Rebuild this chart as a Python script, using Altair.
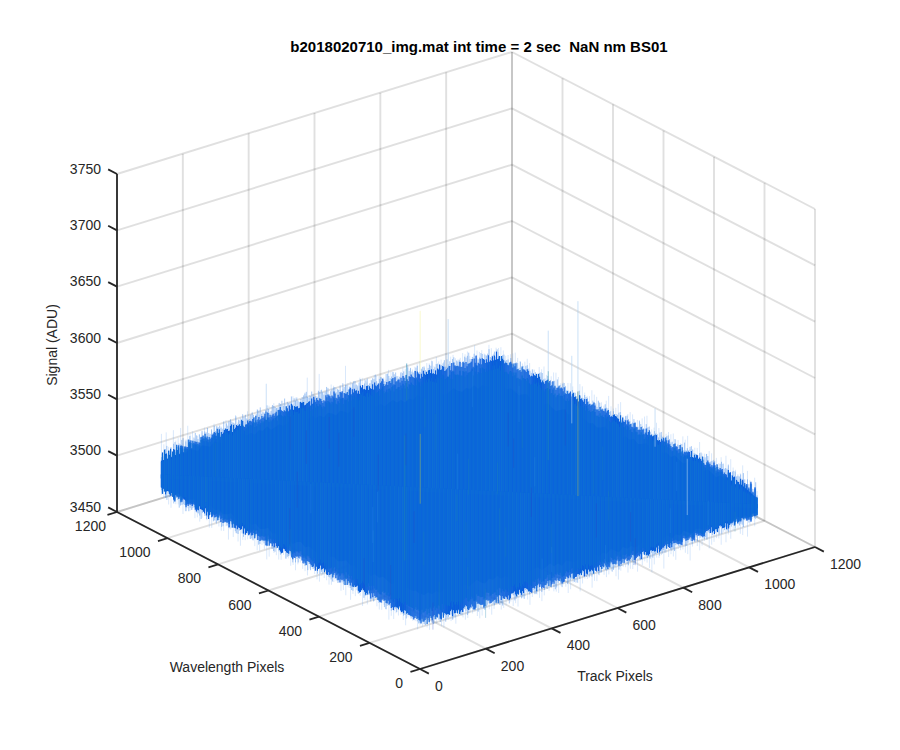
import altair as alt
import numpy as np
import pandas as pd

TITLE = "b2018020710_img.mat int time = 2 sec \u00a0NaN nm BS01"
TICKS_XY = [0, 200, 400, 600, 800, 1000, 1200]
TICKS_Z = [3450, 3500, 3550, 3600, 3650, 3700, 3750]
EDGE = 1024
MID = 3502

# Solid edge of the surface, signal minus MID, read along the four edges
UP_LB = [14,19,17,21,19,22,20,23,21,19,24,22,20,25,23,21,24,26,22,24,27,23,25,22,26,24,28,23,25,27,24,26,29,25,23,27,25,28,24,26,23,27,25,22,26,24,21,25,23,26,22,20,24,21,23,19,22,24,20,22,18,21,19,23,20,18,21,17,20,18,16,19,21,17,15,18,16,19,14,17,15,13,16,12]
UP_BR = [11,14,12,15,13,11,14,16,12,14,15,12,16,13,11,14,17,13,15,12,14,16,13,15,12,14,17,13,15,14,12,16,14,17,13,15,18,14,16,13,15,17,14,18,15,13,16,19,15,17,14,18,16,13,17,15,19,16,14,17,15,13,11,8]
LO_LF = [-10,-14,-12,-15,-11,-13,-16,-12,-10,-13,-11,-14,-9,-12,-10,-13,-11,-8,-12,-10,-13,-9,-11,-8,-12,-10,-7,-11,-9,-12,-8,-10,-13,-9,-7,-11,-8,-10,-12,-9,-7,-10,-8,-11,-9,-6,-10,-8,-11,-7,-9,-12,-8,-10,-7,-9,-11,-8,-6,-10,-8,-9,-7,-9]
LO_FR = [-8,-11,-9,-12,-10,-13,-9,-11,-14,-10,-12,-9,-13,-11,-8,-12,-14,-10,-12,-9,-13,-11,-15,-10,-12,-14,-9,-13,-11,-10,-14,-12,-9,-13,-11,-15,-10,-12,-14,-11,-9,-13,-12,-10,-14,-11,-13,-9,-12,-15,-10,-13,-11,-14,-12,-9,-13,-10,-12,-14,-11,-9,-13,-10,-12,-8,-11,-13,-9,-10,-12,-8,-11,-9,-7,-10,-12,-8,-6,-9,-7,-10,-6,-8]

# Thin noise peaks beyond the solid edge, signal minus MID
PK_LB = [42,27,31,26,33,29,35,30,28,36,31,34,38,30,33,37,32,35,29,34,39,32,53,33,37,30,35,31,36,28,34,30,33,27,32,29,35,31,26,30,34,27,30,25,28,23,26,20]
PK_BR = [24,20,26,22,28,21,25,19,29,23,26,21,24,30,22,27,23,33,25,21,28,24,31,22,27,25,29,23,34,26,24,30,27,25,33,22,15]
PK_LF = [-18,-24,-20,-26,-19,-22,-17,-25,-20,-16,-23,-28,-18,-21,-16,-24,-19,-15,-22,-17,-20,-14,-23,-18,-16,-21,-14,-19,-25,-15,-18,-13,-20,-16,-22,-14,-13]
PK_FR = [-15,-19,-17,-22,-18,-24,-20,-17,-23,-19,-26,-18,-21,-24,-17,-22,-19,-28,-20,-23,-18,-25,-21,-19,-30,-20,-24,-18,-22,-26,-19,-23,-28,-20,-33,-21,-18,-24,-20,-26,-17,-22,-27,-19,-15,-24,-16,-11]

# Hot pixels and streaks
HOT_TRACK = [786, 871, 700, 700, 200, 500, 800, 800, 1024, 300, 650, 950, 860]
HOT_WAVE = [1024, 1024, 287, 287, 321, 651, 535, 535, 404, 1000, 900, 180, 520]
HOT_HI = [3578, 3563, 3600, 3680, 3602, 3538, 3616, 3580, 3542, 3560, 3558, 3530, 3590]
HOT_LO = [3525, 3512, 3507, 3600, 3491, 3476, 3580, 3501, 3508, 3528, 3525, 3480, 3530]
HOT_TONE = ["yellow", "pale", "olive", "pale", "teal", "olive", "pale", "teal", "pale", "pale", "teal", "pale", "pale"]

ST_TRACK = [40,95,130,180,210,260,300,330,370,410,440,480,520,560,590,630,660,700,740,780,820,860,900,940,980,1010,60,150,240,350,460,540,610,690,770,850,930,20,110,190,280,390,500,600,720,840,960,70,230,430,650,880,320,510,760]
ST_WAVE = [900,640,980,420,760,150,560,880,300,700,90,480,940,210,620,380,800,60,510,270,720,130,450,650,30,300,300,120,500,970,260,760,60,880,170,420,820,540,260,680,350,830,130,590,240,690,110,40,40,920,540,940,440,350,620]
ST_HI = [3528,3510,3525,3508,3518,3500,3515,3530,3512,3522,3498,3506,3526,3504,3516,3510,3524,3496,3512,3506,3520,3500,3514,3520,3498,3508,3508,3500,3514,3530,3504,3522,3498,3526,3500,3510,3522,3510,3502,3518,3506,3528,3498,3514,3504,3520,3500,3498,3496,3528,3512,3526,3510,3506,3514]
ST_LO = [3490,3478,3495,3480,3486,3480,3488,3500,3480,3490,3476,3482,3500,3478,3484,3484,3492,3472,3486,3480,3490,3478,3484,3488,3480,3482,3480,3476,3482,3500,3478,3494,3476,3500,3474,3480,3490,3488,3472,3492,3476,3498,3476,3482,3474,3490,3478,3474,3470,3500,3484,3494,3482,3476,3488]
ST_TONE = ["teal","dark","teal","sky","dark","teal","sky","dark","teal","dark","sky","teal","dark","teal","sky","dark","teal","dark","sky","teal","dark","sky","teal","dark","teal","sky","dark","teal","sky","dark","teal","dark","sky","teal","dark","teal","sky","teal","dark","sky","teal","dark","sky","teal","dark","teal","sky","dark","teal","dark","teal","sky","dark","teal","dark"]

TONE_NAMES = ["teal", "dark", "sky", "olive", "pale", "yellow"]
TONE_COLORS = ["#1e86b2", "#2a44c2", "#2a8ae6", "#8fae6e", "#a9cdf2", "#f6f5ae"]
SHADE_NAMES = ["o0", "o1", "o2", "o3", "i0", "i1", "i2", "i3"]
SHADE_COLORS = ["#0a5fdd", "#0b62db", "#0a5ade", "#0c66d8", "#0c69da", "#0d6cd7", "#0b65dc", "#0e6fd5"]
PASS_SHIFT = [0, 3, -5, 7]
PEAK_SHIFT = [0, 2, -3]

ORIGIN = (420.0, 669.0)


def project(track, wave, signal):
    track, wave, signal = np.asarray(track, float), np.asarray(wave, float), np.asarray(signal, float)
    px = ORIGIN[0] + 395 * track / 1200 - 303 * wave / 1200
    py = ORIGIN[1] - 122 * track / 1200 - 157 * wave / 1200 - (signal - 3450) * 338 / 300
    return px, py


def seg(t0, w0, z0, t1, w1, z1):
    a, b = project(t0, w0, z0), project(t1, w1, z1)
    return {"x": float(a[0]), "y": float(a[1]), "x2": float(b[0]), "y2": float(b[1])}


X = alt.X("x:Q", scale=alt.Scale(domain=[8, 892], nice=False, zero=False), axis=None)
Y = alt.Y("y:Q", scale=alt.Scale(domain=[742, 8], nice=False, zero=False), axis=None)


def rules(rows, **mark):
    return alt.Chart(pd.DataFrame(rows)).mark_rule(**mark).encode(x=X, y=Y, x2="x2:Q", y2="y2:Q")


# Grid
grid = []
for t in TICKS_XY:
    grid.append(seg(t, 0, 3450, t, 1200, 3450))
    grid.append(seg(t, 1200, 3450, t, 1200, 3750))
for w in TICKS_XY:
    grid.append(seg(0, w, 3450, 1200, w, 3450))
    grid.append(seg(1200, w, 3450, 1200, w, 3750))
for z in TICKS_Z:
    grid.append(seg(0, 1200, z, 1200, 1200, z))
    grid.append(seg(1200, 0, z, 1200, 1200, z))
grid_layer = rules(grid, color="#262626", opacity=0.14, strokeWidth=1.9)

# Surface edges: each maps a position u in 0..1 along the edge to (track, wave)
LB = lambda u: (u * EDGE, np.full_like(u, EDGE))
BR = lambda u: (np.full_like(u, EDGE), (1 - u) * EDGE)
LF = lambda u: (np.zeros_like(u), (1 - u) * EDGE)
FR = lambda u: (u * EDGE, np.zeros_like(u))

Lm = project(0, EDGE, MID)
Rm = project(EDGE, 0, MID)


def midline(sx):
    return np.interp(sx, [float(Lm[0]), float(Rm[0])], [float(Lm[1]), float(Rm[1])])


def edge_pass(values, fn, k, m, shift):
    vals = np.array(values, float)
    N = len(vals)
    i = np.arange(N)
    u = (i + k / m) / (N - 1)
    keep = u <= 1
    u = u[keep]
    v = vals[np.clip(i[keep] + shift, 0, N - 1)]
    t, w = fn(u)
    return project(t, w, MID + v)


def columns(edges, frac, prefix, overlap):
    rows = []
    for values, fn in edges:
        for k, shift in enumerate(PASS_SHIFT):
            sx, sy = edge_pass(values, fn, k, len(PASS_SHIFT), shift)
            my = midline(sx)
            rows.append(pd.DataFrame({
                "x": sx, "y": my + frac * (sy - my), "y2": my + overlap,
                "shade": f"{prefix}{k}",
            }))
    return pd.concat(rows, ignore_index=True)


upper = [(UP_LB, LB), (UP_BR, BR)]
lower = [(LO_LF, LF), (LO_FR, FR)]
shade_scale = alt.Scale(domain=SHADE_NAMES, range=SHADE_COLORS)


def col_layer(frame):
    return alt.Chart(frame).mark_rule(strokeWidth=1.15).encode(
        x=X, y=Y, y2="y2:Q", color=alt.Color("shade:N", scale=shade_scale, legend=None))


def base_band(edges, overlap):
    parts = [edge_pass(v, fn, 0, 1, 0) for v, fn in edges]
    sx = np.concatenate([p[0] for p in parts])
    sy = np.concatenate([p[1] for p in parts])
    my = midline(sx)
    return pd.DataFrame({"x": sx, "y": my + 0.8 * (sy - my), "y2": my + overlap})


base_up = alt.Chart(base_band(upper, 2)).mark_area(color="#0a60dc").encode(x=X, y=Y, y2="y2:Q")
base_lo = alt.Chart(base_band(lower, -2)).mark_area(color="#0a60dc").encode(x=X, y=Y, y2="y2:Q")


# Thin fuzz of peaks: a faint far one and a stronger one close to the body
def fuzz(edges, scale):
    out = []
    for values, fn in edges:
        for k, shift in enumerate(PEAK_SHIFT):
            sx, sy = edge_pass(np.array(values, float) * scale, fn, k, len(PEAK_SHIFT), shift)
            out.append(pd.DataFrame({"x": sx, "y": sy, "y2": midline(sx)}))
    return pd.concat(out, ignore_index=True)


halo_far = alt.Chart(fuzz([(PK_LB, LB), (PK_BR, BR), (PK_LF, LF), (PK_FR, FR)], 0.9)).mark_rule(
    color="#6aa4ee", opacity=0.32, strokeWidth=0.8).encode(x=X, y=Y, y2="y2:Q")
halo_near = alt.Chart(fuzz(upper + lower, 1.22)).mark_rule(
    color="#3f88e8", opacity=0.45, strokeWidth=1).encode(x=X, y=Y, y2="y2:Q")

tone_scale = alt.Scale(domain=TONE_NAMES, range=TONE_COLORS)


def streak_frame(tr, wa, hi, lo, tone):
    ax, ay = project(tr, wa, hi)
    _, by = project(tr, wa, lo)
    return pd.DataFrame({"x": ax, "y": ay, "y2": by, "tone": tone})


streaks = alt.Chart(streak_frame(ST_TRACK, ST_WAVE, ST_HI, ST_LO, ST_TONE)).mark_rule(
    opacity=0.3, strokeWidth=1).encode(
    x=X, y=Y, y2="y2:Q", color=alt.Color("tone:N", scale=tone_scale, legend=None))
hots = alt.Chart(streak_frame(HOT_TRACK, HOT_WAVE, HOT_HI, HOT_LO, HOT_TONE)).mark_rule(
    opacity=0.6, strokeWidth=1).encode(
    x=X, y=Y, y2="y2:Q", color=alt.Color("tone:N", scale=tone_scale, legend=None))

# Axes
axes = [seg(0, 0, 3450, 0, 1200, 3450), seg(0, 0, 3450, 1200, 0, 3450), seg(0, 1200, 3450, 0, 1200, 3750)]
for t in TICKS_XY:
    axes.append(seg(t, 0, 3450, t, -35, 3450))
for w in TICKS_XY:
    axes.append(seg(0, w, 3450, -29, w, 3450))
for z in TICKS_Z:
    axes.append(seg(0, 1200, z, 0, 1235, z))
axes_layer = rules(axes, color="#262626", strokeWidth=1.8)

FONT = "Liberation Sans"
FS = 14


def labels(rows, align, **kw):
    return alt.Chart(pd.DataFrame(rows)).mark_text(
        align=align, baseline="middle", font=FONT, fontSize=FS, color="#262626", **kw
    ).encode(x=X, y=Y, text="t:N")


zl = []
for z in TICKS_Z:
    a = project(0, 1200, z)
    zl.append({"x": float(a[0]) - 16, "y": float(a[1]) - 4.5, "t": str(z)})
wl = []
for w in TICKS_XY:
    a = project(0, w, 3450)
    wl.append({"x": float(a[0]) - (11 if w == 1200 else 17), "y": float(a[1]) + 15, "t": str(w)})
tl = []
for t in TICKS_XY:
    a = project(t, 0, 3450)
    tl.append({"x": float(a[0]) + 15, "y": float(a[1]) + 18, "t": str(t)})

text_layers = [labels(zl, "right"), labels(wl, "right"), labels(tl, "left")]
names = labels([
    {"x": 227, "y": 668, "t": "Wavelength Pixels"},
    {"x": 615, "y": 677, "t": "Track Pixels"},
], "center")
zname = labels([{"x": 53, "y": 345, "t": "Signal (ADU)"}], "center", angle=270)
title = alt.Chart(pd.DataFrame([{"x": 479, "y": 47, "t": TITLE}])).mark_text(
    align="center", baseline="middle", font=FONT, fontSize=15, fontWeight="bold", color="#000000"
).encode(x=X, y=Y, text="t:N")

chart = alt.layer(
    grid_layer, halo_far, halo_near, base_up, base_lo,
    col_layer(columns(upper, 1.0, "o", 2)), col_layer(columns(lower, 1.0, "o", -2)),
    col_layer(columns(upper, 0.93, "i", 2)), col_layer(columns(lower, 0.93, "i", -2)),
    streaks, hots, axes_layer,
    *text_layers, names, zname, title
).resolve_scale(color="independent").properties(
    width=884, height=734, padding=0, autosize=alt.AutoSizeParams(type="none")
).configure_view(stroke=None)

chart.save("out.html", embed_options={"renderer": "svg", "actions": False})
